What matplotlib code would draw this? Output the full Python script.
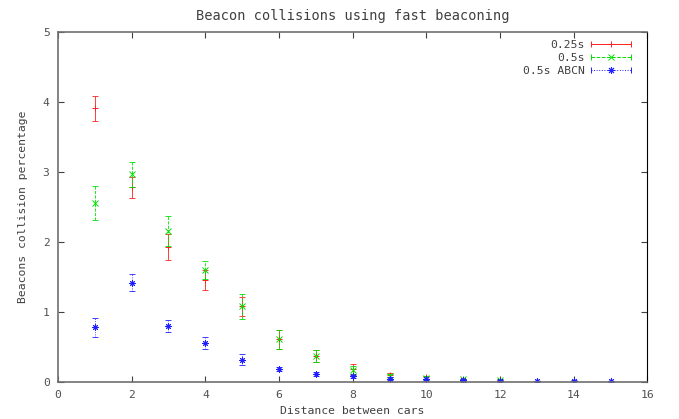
import matplotlib
matplotlib.use('Agg')
import matplotlib.pyplot as plt
from matplotlib.lines import Line2D
from matplotlib.legend_handler import HandlerBase

plt.rcParams['font.family'] = 'DejaVu Sans Mono'
plt.rcParams['font.size'] = 8.2

# distance between cars
dist_fast = [1, 2, 3, 4, 5, 6, 7, 8, 9, 10, 11, 12]
dist_abcn = [1, 2, 3, 4, 5, 6, 7, 8, 9, 10, 11, 12, 13, 14, 15]

# 0.25s beaconing
red_mean = [3.91, 2.78, 1.93, 1.46, 1.08, 0.61, 0.37, 0.19, 0.10, 0.07, 0.04, 0.03]
red_err = [0.18, 0.15, 0.18, 0.14, 0.13, 0.14, 0.09, 0.07, 0.03, 0.02, 0.01, 0.01]

# 0.5s beaconing
green_mean = [2.56, 2.97, 2.16, 1.60, 1.08, 0.61, 0.37, 0.17, 0.09, 0.06, 0.04, 0.03]
green_err = [0.24, 0.18, 0.21, 0.13, 0.18, 0.14, 0.09, 0.06, 0.02, 0.02, 0.01, 0.01]

# 0.5s with ABCN
blue_mean = [0.78, 1.42, 0.80, 0.56, 0.32, 0.19, 0.11, 0.08, 0.05, 0.04, 0.03, 0.02, 0.01, 0.02, 0.01]
blue_err = [0.13, 0.12, 0.08, 0.09, 0.08, 0.03, 0.03, 0.02, 0.02, 0.01, 0.01, 0.01, 0.01, 0.01, 0.01]

star = (8, 2, 0)  # gnuplot style star: + and x together
series = [
    (dist_fast, red_mean, red_err, '#ff2020', '-', '+', '0.25s'),
    (dist_fast, green_mean, green_err, '#00e000', '--', 'x', '0.5s'),
    (dist_abcn, blue_mean, blue_err, '#2020ff', ':', star, '0.5s ABCN'),
]


# gnuplot style legend sample: horizontal bar with end caps and marker in middle
class GnuplotKey(HandlerBase):
    def create_artists(self, legend, orig, xdescent, ydescent, width, height, fontsize, trans):
        y = height / 2 - ydescent
        x0, x1 = -xdescent, -xdescent + width
        line = Line2D([x0, x1], [y, y], color=orig.get_color(), linestyle=orig.get_linestyle(), lw=0.7)
        caps = Line2D([x0, x1], [y, y], color=orig.get_color(), linestyle='none', marker='|', markersize=5, mew=0.7)
        mid = Line2D([(x0 + x1) / 2], [y], color=orig.get_color(), linestyle='none',
                     marker=orig.get_marker(), markersize=5, mew=0.7)
        for a in (line, caps, mid):
            a.set_transform(trans)
        return [line, caps, mid]


fig = plt.figure(figsize=(6.79, 4.19), dpi=100)
ax = fig.add_axes([0.0854, 0.0883, 0.868, 0.8353])

handles = []
for x, m, e, c, ls, mk, lab in series:
    eb = ax.errorbar(x, m, yerr=e, fmt='none', ecolor=c, elinewidth=0.6, capsize=2.5, capthick=0.6)
    eb[2][0].set_linestyle(ls)
    ax.plot(x, m, linestyle='none', marker=mk, color=c, markersize=4.5, mew=0.7)
    handles.append(Line2D([], [], color=c, linestyle=ls, marker=mk, label=lab))

ax.set_xlim(0, 16)
ax.set_ylim(0, 5)
ax.set_xticks(range(0, 17, 2))
ax.set_yticks(range(0, 6))
ax.tick_params(direction='in', top=True, right=True, length=4, width=0.8,
               colors='#404040', labelcolor='#505050', pad=6)
for side in ['left', 'bottom', 'top']:
    ax.spines[side].set_color('#707070')
    ax.spines[side].set_linewidth(1.2)
ax.spines['right'].set_color('black')
ax.spines['right'].set_linewidth(0.8)

ax.set_title('Beacon collisions using fast beaconing', color='#404040', pad=9)
ax.set_xlabel('Distance between cars', color='#404040', labelpad=4)
ax.set_ylabel('Beacons collision percentage', color='#404040', labelpad=11)

ax.legend(handles=handles, loc='upper right', frameon=False, markerfirst=False,
          handler_map={Line2D: GnuplotKey()}, handlelength=3.5, handletextpad=0.5,
          labelspacing=0.27, borderaxespad=0.3, labelcolor='#404040',
          bbox_to_anchor=(0.985, 1.0))

fig.savefig('out.png', dpi=100)
